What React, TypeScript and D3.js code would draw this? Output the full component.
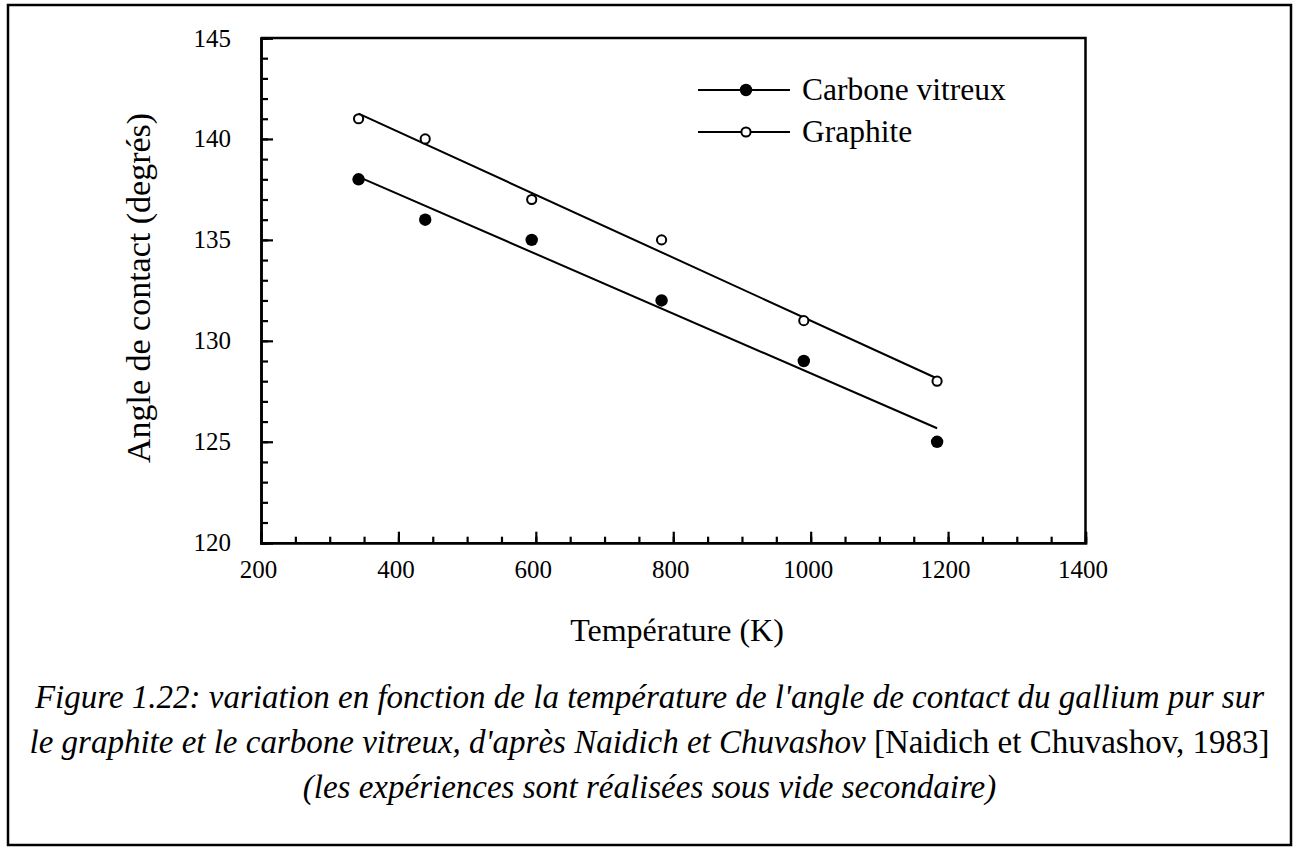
import React, { useEffect, useRef } from "react"
import * as d3 from "d3"

const temperatures = [342, 439, 594, 783, 990, 1184]
// contact angle (degrees)
const carboneVitreux = [138, 136, 135, 132, 129, 125]
const graphite = [141, 140, 137, 135, 131, 128]

const seriesNames = ["Carbone vitreux", "Graphite"]
const xTicks = [200, 400, 600, 800, 1000, 1200, 1400]
const yTicks = [120, 125, 130, 135, 140, 145]

const xTitle = "Température (K)"
const yTitle = "Angle de contact (degrés)"
const caption1 = "Figure 1.22: variation en fonction de la température de l'angle de contact du gallium pur sur"
const caption2a = "le graphite et le carbone vitreux, d'après Naidich et Chuvashov"
const caption2b = " [Naidich et Chuvashov, 1983]"
const caption3 = "(les expériences sont réalisées sous vide secondaire)"

const W = 1299
const H = 848
const margin = { left: 261, top: 38, right: 1085.5, bottom: 542.7 }
const FONT = "'Liberation Serif', 'Times New Roman', serif"

// least squares line through one series
function fitLine(xs: number[], ys: number[]) {
  const mx = d3.mean(xs) as number
  const my = d3.mean(ys) as number
  const sxy = d3.sum(xs, (x, i) => (x - mx) * (ys[i] - my))
  const sxx = d3.sum(xs, x => (x - mx) * (x - mx))
  const b = sxy / sxx
  return (x: number) => my + b * (x - mx)
}

export default function App() {
  const ref = useRef<SVGSVGElement>(null)

  useEffect(() => {
    const svg = d3.select(ref.current)
    svg.selectAll("*").remove()

    const xScale = d3.scaleLinear().domain([200, 1400]).range([margin.left, margin.right])
    const yScale = d3.scaleLinear().domain([120, 145]).range([margin.bottom, margin.top])

    // outer frame round the figure and its caption
    svg.append("rect").attr("x", 8).attr("y", 5).attr("width", 1283).attr("height", 840)
      .attr("fill", "white").attr("stroke", "black").attr("stroke-width", 2.5)

    // plot box (top and right sides)
    svg.append("path")
      .attr("d", `M${margin.left},${margin.top}H${margin.right}V${margin.bottom}`)
      .attr("fill", "none").attr("stroke", "black").attr("stroke-width", 2.5)

    // y axis: minor ticks every degree, major every 5, all pointing inward
    svg.append("g").attr("transform", `translate(${margin.left},0)`)
      .call(d3.axisLeft(yScale).tickValues(d3.range(120, 146, 1)).tickSize(-7).tickFormat(() => ""))
    svg.append("g").attr("class", "y-axis").attr("transform", `translate(${margin.left},0)`)
      .call(d3.axisLeft(yScale).tickValues(yTicks).tickSize(-12).tickPadding(30).tickFormat(d3.format("d")))

    // x axis: minor every 50 K, major every 200 K
    svg.append("g").attr("transform", `translate(0,${margin.bottom})`)
      .call(d3.axisBottom(xScale).tickValues(d3.range(200, 1401, 50)).tickSize(-6).tickFormat(() => ""))
    svg.append("g").attr("class", "x-axis").attr("transform", `translate(0,${margin.bottom})`)
      .call(d3.axisBottom(xScale).tickValues(xTicks).tickSize(-11).tickPadding(18).tickFormat(d3.format("d")))

    svg.selectAll(".domain").attr("stroke-width", 2.5)
    svg.selectAll(".tick line").attr("stroke-width", 2.2)
    svg.selectAll(".tick text").attr("font-family", FONT).attr("font-size", 25).attr("fill", "black")
    svg.selectAll(".x-axis .tick text").attr("dx", -3)

    // axis titles
    svg.append("text").attr("x", 677).attr("y", 641).attr("text-anchor", "middle")
      .attr("font-family", FONT).attr("font-size", 32).text(xTitle)
    svg.append("text").attr("transform", `translate(150,288) rotate(-90)`).attr("text-anchor", "middle")
      .attr("font-family", FONT).attr("font-size", 34).text(yTitle)

    // fitted lines and measured points
    const xMin = d3.min(temperatures) as number
    const xMax = d3.max(temperatures) as number
    const series = [
      { name: seriesNames[0], values: carboneVitreux, filled: true },
      { name: seriesNames[1], values: graphite, filled: false },
    ]
    series.forEach(s => {
      const f = fitLine(temperatures, s.values)
      svg.append("line")
        .attr("x1", xScale(xMin)).attr("y1", yScale(f(xMin)))
        .attr("x2", xScale(xMax)).attr("y2", yScale(f(xMax)))
        .attr("stroke", "black").attr("stroke-width", 2)
      svg.append("g").selectAll("circle").data(s.values).join("circle")
        .attr("cx", (d, i) => xScale(temperatures[i])).attr("cy", d => yScale(d))
        .attr("r", s.filled ? 6.2 : 4.6)
        .attr("fill", s.filled ? "black" : "white")
        .attr("stroke", "black").attr("stroke-width", s.filled ? 0 : 2)
    })

    // legend
    const legend = svg.append("g").attr("transform", "translate(698,90)")
    series.forEach((s, i) => {
      const row = legend.append("g").attr("transform", `translate(0,${i * 42})`)
      row.append("line").attr("x1", 0).attr("x2", 92).attr("stroke", "black").attr("stroke-width", 2)
      row.append("circle").attr("cx", 48).attr("r", s.filled ? 6.2 : 4.6)
        .attr("fill", s.filled ? "black" : "white")
        .attr("stroke", "black").attr("stroke-width", s.filled ? 0 : 2)
      row.append("text").attr("x", 104).attr("y", 10)
        .attr("font-family", FONT).attr("font-size", 31.5).text(s.name)
    })

    // caption
    const cap = svg.append("g").attr("font-family", FONT).attr("font-size", 33).attr("text-anchor", "middle")
    cap.append("text").attr("x", 649.5).attr("y", 708).attr("font-style", "italic").text(caption1)
    const l2 = cap.append("text").attr("x", 649.5).attr("y", 753)
    l2.append("tspan").attr("font-style", "italic").text(caption2a)
    l2.append("tspan").text(caption2b)
    cap.append("text").attr("x", 649.5).attr("y", 798).attr("font-style", "italic").text(caption3)
  }, [])

  return (
    <svg ref={ref} width={W} height={H}
      style={{ position: "absolute", left: 0, top: 0, display: "block", background: "white" }} />
  )
}
